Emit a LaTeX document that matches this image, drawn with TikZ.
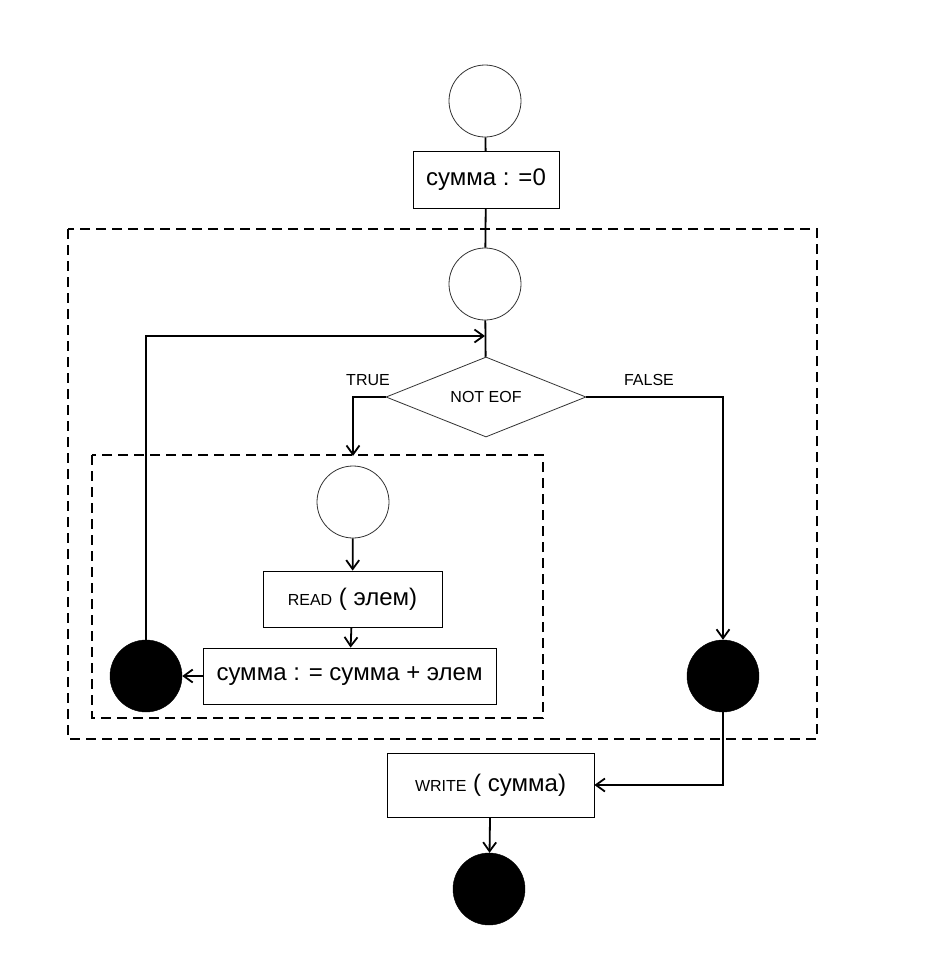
\documentclass[tikz,border=0pt]{standalone}
\usepackage{fontspec}
\setmainfont{Liberation Sans}
\usetikzlibrary{arrows.meta}
\usetikzlibrary{shapes.geometric}

\tikzset{
	opencirc/.style={circle, draw=black!80, line width=0.8pt, minimum size=72pt, inner sep=0pt},
	fullcirc/.style={circle, draw, fill=black, minimum size=72pt, inner sep=0pt},
	actbox/.style={rectangle, draw, line width=0.8pt, inner sep=0pt, font=\fontsize{24}{28}\selectfont},
	condbox/.style={diamond, draw=black!80, line width=0.8pt, inner sep=0pt, aspect=2.5, minimum width=200pt, minimum height=80pt, font=\fontsize{16}{18}\selectfont},
	guard/.style={font=\fontsize{16}{18}\selectfont, inner sep=0pt},
	flow/.style={line width=1.8pt},
	flowarr/.style={line width=1.8pt, -{Straight Barb[length=9pt,width=13pt]}},
	frame/.style={line width=1.8pt, dash pattern=on 10pt off 6pt},
}
\newcommand{\kw}[1]{{\fontsize{16}{18}\selectfont #1}}

\begin{document}
\begin{tikzpicture}[x=1pt,y=-1pt]
		\useasboundingbox[fill=white] (0,0) rectangle (926,970);

		\draw[frame] (68,229) rectangle (817,739);
		\draw[frame] (92,455) rectangle (543,718);

		\foreach \n/\x/\y in {
				start/485/101,
				loop/485/284,
				body/353/502
		}{
		\node[opencirc] (\n) at (\x,\y) {};
		}
		\foreach \n/\x/\y in {
				bodyend/146/676,
				loopend/723/676,
				stop/489/889
		}{
		\node[fullcirc] (\n) at (\x,\y) {};
		}

		\node[actbox, minimum width=146pt, minimum height=57pt] (init) at (486,180) {сумма : =0};
		\node[condbox] (cond) at (486,397) {NOT EOF};
		\node[guard] (t) at (368,380) {TRUE};
		\node[guard] (f) at (649,380) {FALSE};
		\node[actbox, minimum width=179pt, minimum height=56pt] (read) at (352.5,599) {\kw{READ} ( элем)};
		\node[actbox, minimum width=293pt, minimum height=56pt] (add) at (349.5,676) {сумма : = сумма + элем};
		\node[actbox, minimum width=207pt, minimum height=64pt] (write) at (490.5,785) {\kw{WRITE} ( сумма)};

		\coordinate (join) at (485,336);
		\coordinate (bodyin) at (353,456);

		\draw[flow] (start) -- (init);
		\draw[flow] (init) -- (loop);
		\draw[flow] (loop) -- (cond);
		\draw[flowarr] (bodyend) |- (join);
		\draw[flowarr] (cond.west) -| (bodyin);
		\draw[flowarr] (body) -- (read);
		\draw[flowarr] (read) -- (add);
		\draw[flowarr] (add) -- (bodyend);
		\draw[flowarr] (cond.east) -| (loopend);
		\draw[flowarr] (loopend) |- (write);
		\draw[flowarr] (write) -- (stop);
\end{tikzpicture}
\end{document}
